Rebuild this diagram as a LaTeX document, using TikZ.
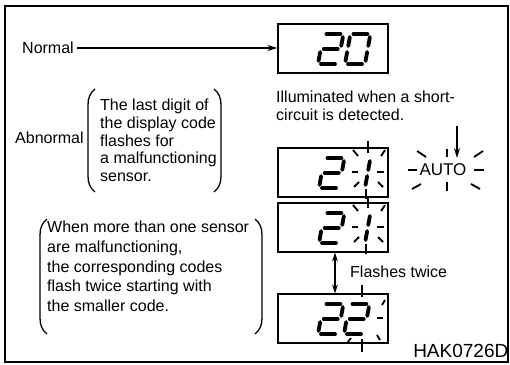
\documentclass[tikz,border=0pt]{standalone}
\usepackage{fontspec}
\setmainfont{Liberation Sans}
\usetikzlibrary{arrows.meta}
\newcommand\dsegA{\draw[segline] (3,-30)--(17,-30);}
\newcommand\dsegB{\draw[segline] (20,-27)--(20,-18);}
\newcommand\dsegC{\draw[segline] (20,-12)--(20,-3);}
\newcommand\dsegD{\draw[segline] (3,0)--(17,0);}
\newcommand\dsegE{\draw[segline] (0,-12)--(0,-3);}
\newcommand\dsegF{\draw[segline] (0,-27)--(0,-18);}
\newcommand\dsegG{\draw[segline] (3,-15)--(17,-15);}
\newcommand\dgtwo{\dsegA\dsegB\dsegG\dsegE\dsegD}
\newcommand\dgzero{\dsegA\dsegB\dsegC\dsegD\dsegE\dsegF}
\newcommand\dgone{\dsegB\dsegC}
\newcommand\lbrk[3]{\draw[brk] (#1+7,#2) .. controls (#1+2,#2+4) and (#1,#2+9) .. (#1,#2+16) -- (#1,#3-16) .. controls (#1,#3-9) and (#1+2,#3-4) .. (#1+7,#3);}
\newcommand\rbrk[3]{\draw[brk] (#1-7,#2) .. controls (#1-2,#2+4) and (#1,#2+9) .. (#1,#2+16) -- (#1,#3-16) .. controls (#1,#3-9) and (#1-2,#3-4) .. (#1-7,#3);}
\begin{document}
\begin{tikzpicture}[x=1pt,y=-1pt,
  segline/.style={line width=3.8pt,line cap=round},
  ray/.style={line width=1.8pt},
  brk/.style={line width=1.3pt},
  dispbox/.style={draw,line width=1.3pt,minimum width=110pt,minimum height=49pt,inner sep=0pt},
  lbl/.style={inner sep=0pt,align=left,font=\fontsize{16}{18}\selectfont},
  arr/.style={line width=1.3pt,-{Stealth[length=10pt,width=6pt]}},
  darr/.style={line width=1.3pt,{Stealth[length=9pt,width=6pt]}-{Stealth[length=9pt,width=6pt]}}]
\useasboundingbox (0,0) rectangle (510,364);
\draw[line width=1.2pt] (5,6) rectangle (508,362);
% displays
\node[dispbox] (b20) at (333,48.5) {};
\node[dispbox] (b21a) at (333,172.5) {};
\node[dispbox] (b21b) at (333,227.5) {};
\node[dispbox] (b22) at (333,318.5) {};
% digits
\begin{scope}[shift={(318,64)},xslant=0.18]\dgtwo\end{scope}
\begin{scope}[shift={(345,64)},xslant=0.18]\dgzero\end{scope}
\foreach \dy in {0,55}{
  \begin{scope}[shift={(0,\dy)}]
    \begin{scope}[shift={(319,188)},xslant=0.18]\dgtwo\end{scope}
    \begin{scope}[shift={(345,188)},xslant=0.18]\dgone\end{scope}
    \draw[ray] (368,141)--(368,153);
    \draw[ray] (366,189)--(366,199);
    \draw[ray] (352,172)--(358,172);
    \draw[ray] (377,172)--(384,172);
    \draw[ray] (353,150)--(358,156);
    \draw[ray] (385,150)--(381,156);
    \draw[ray] (354,187)--(359,182);
    \draw[ray] (378,182)--(383,187);
  \end{scope}}
\begin{scope}[shift={(318,334)},xslant=0.18]\dgtwo\end{scope}
\begin{scope}[shift={(344,334)},xslant=0.18]\dgtwo\end{scope}
\draw[ray] (362,285)--(362,297);
\draw[ray] (362,339)--(362,352);
\draw[ray] (377,318)--(383,318);
\draw[ray] (385,300)--(382,305);
\draw[ray] (377,335)--(380,340);
\draw[ray] (351,338)--(347,343);
% AUTO
\node[lbl,font=\fontsize{17}{19}\selectfont] (auto) at (443,170) {AUTO};
\draw[ray] (408,170)--(417,170);
\draw[ray] (474,170)--(484,170);
\draw[ray] (417,151)--(426,157);
\draw[ray] (447,149)--(447,157);
\draw[ray] (483,151)--(474,157);
\draw[ray] (412,189)--(421,184);
\draw[ray] (447,182)--(447,191);
\draw[ray] (471,184)--(480,189);
\coordinate (autotop) at (457,126);
\coordinate (autotip) at (457,158);
\draw[arr] (autotop) -- (autotip);
% texts
\node[lbl,anchor=west] (normal) at (22,48) {Normal};
\draw[arr] ([xshift=3pt]normal.east) -- (normal.east -| b20.west);
\node[lbl,anchor=north west] (illum) at (276,91) {Illuminated when a short-\\circuit is detected.};
\node[lbl,anchor=west] (abn) at (15,138) {Abnormal};
\node[lbl,anchor=north west,font=\fontsize{16}{17.7}\selectfont] (upper) at (100,99) {The last digit of\\the display code\\flashes for\\a malfunctioning\\sensor.};
\lbrk{88}{89}{192}
\rbrk{221}{89}{192}
\node[lbl,anchor=north west,font=\fontsize{16}{19.7}\selectfont] (lower) at (47,221) {When more than one sensor\\are malfunctioning,\\the corresponding codes\\flash twice starting with\\the smaller code.};
\lbrk{40}{219}{334}
\rbrk{262}{219}{334}
\coordinate (dax) at (335,273);
\draw[darr] (dax |- b21b.south) -- (dax |- b22.north);
\node[lbl,anchor=west] (flash) at (350,272) {Flashes twice};
\node[lbl,anchor=east,font=\fontsize{19}{21}\selectfont] (code) at (508.5,351) {HAK0726D};
\end{tikzpicture}
\end{document}
